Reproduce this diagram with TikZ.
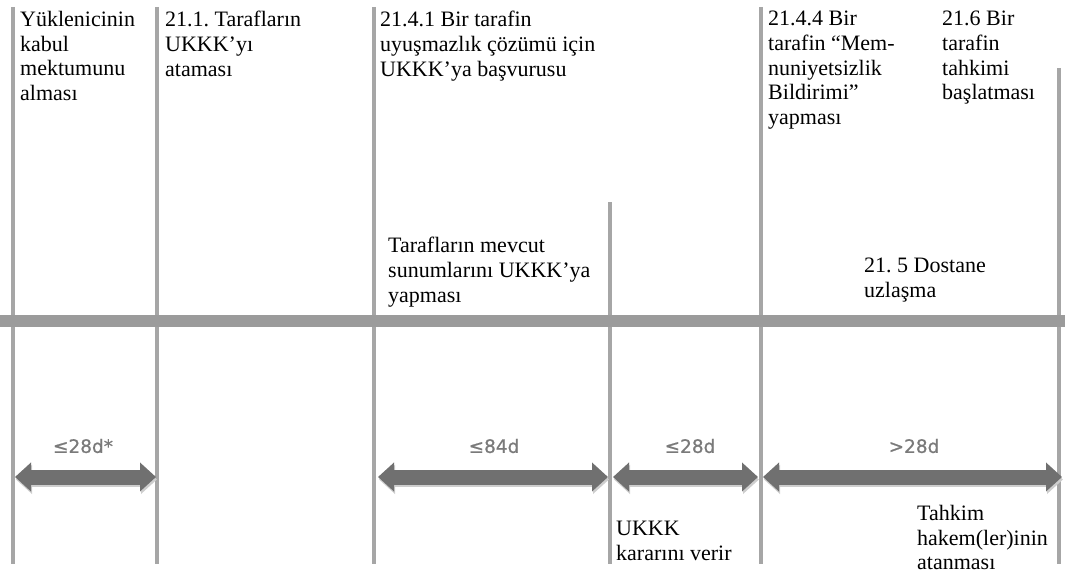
\documentclass[tikz,border=0pt]{standalone}
\usepackage{fontspec}
\setmainfont{Liberation Serif}
\newfontfamily\lblfont[FakeBold=0.8]{DejaVu Sans}
\usetikzlibrary{arrows.meta}
\frenchspacing
\definecolor{linegray}{RGB}{166,166,166}
\definecolor{bargray}{RGB}{155,155,155}
\definecolor{arrowgray}{RGB}{112,112,112}
\definecolor{shadowgray}{RGB}{205,205,205}
\definecolor{lblgray}{RGB}{122,122,122}
\tikzset{
  vline/.style={draw=linegray, line width=4},
  mainbar/.style={draw=bargray, line width=12},
  span/.style={draw=arrowgray, line width=15,
    {Triangle[width=28pt,length=16pt]}-{Triangle[width=28pt,length=16pt]}},
  spanshadow/.style={draw=shadowgray, line width=15,
    {Triangle[width=28pt,length=16pt]}-{Triangle[width=28pt,length=16pt]}},
  txt/.style={anchor=north west, inner sep=0pt, align=left,
    font=\fontsize{22}{24.7}\selectfont, text=black},
  dur/.style={inner sep=0pt, font=\lblfont\fontsize{18.5}{20}\selectfont, text=lblgray}
}
\begin{document}
\begin{tikzpicture}[x=1pt,y=-1pt]
\useasboundingbox (0,0) rectangle (1065,583);

% milestone lines
\coordinate (l1t) at (13,7);    \coordinate (l1b) at (13,564);
\coordinate (l2t) at (157,7);   \coordinate (l2b) at (157,564);
\coordinate (l3t) at (374,7);   \coordinate (l3b) at (374,564);
\coordinate (l4t) at (610,202); \coordinate (l4b) at (610,564);
\coordinate (l5t) at (761,7);   \coordinate (l5b) at (761,564);
\coordinate (l6t) at (1059,68); \coordinate (l6b) at (1059,564);
\foreach \i in {1,...,6} \draw[vline] (l\i t) -- (l\i b);

% time axis
\coordinate (barl) at (0,321);
\coordinate (barr) at (1065,321);
\draw[mainbar] (barl) -- (barr);

% duration arrows
\coordinate (a1l) at (15,477);  \coordinate (a1r) at (156,477);
\coordinate (a2l) at (378,477); \coordinate (a2r) at (608,477);
\coordinate (a3l) at (613,477); \coordinate (a3r) at (758,477);
\coordinate (a4l) at (763,477); \coordinate (a4r) at (1062,477);
\foreach \i in {1,...,4} {
  \draw[spanshadow] ([shift={(1,2.5)}]a\i l) -- ([shift={(1,2.5)}]a\i r);
  \draw[span] (a\i l) -- (a\i r);
}

\node[dur] (d1) at (83,446)  {≤28d*};
\node[dur] (d2) at (494,446) {≤84d};
\node[dur] (d3) at (690,446) {≤28d};
\node[dur] (d4) at (914,446) {>28d};

% event texts
\node[txt] (t1) at (20,11)  {Yüklenicinin\\kabul\\mektumunu\\alması};
\node[txt] (t2) at (165,11) {21.1. Tarafların\\UKKK’yı\\ataması};
\node[txt] (t3) at (380,11) {21.4.1 Bir tarafin\\uyuşmazlık çözümü için\\UKKK’ya başvurusu};
\node[txt] (t4) at (768,11) {21.4.4 Bir\\tarafin “Mem-\\nuniyetsizlik\\Bildirimi”\\yapması};
\node[txt] (t5) at (942,11) {21.6 Bir\\tarafin\\tahkimi\\başlatması};
\node[txt] (t6) at (388,237) {Tarafların mevcut\\sunumlarını UKKK’ya\\yapması};
\node[txt] (t7) at (864,258) {21. 5 Dostane\\uzlaşma};
\node[txt] (t8) at (616,521) {UKKK\\kararını verir};
\node[txt] (t9) at (917,505) {Tahkim\\hakem(ler)inin\\atanması};
\end{tikzpicture}
\end{document}
